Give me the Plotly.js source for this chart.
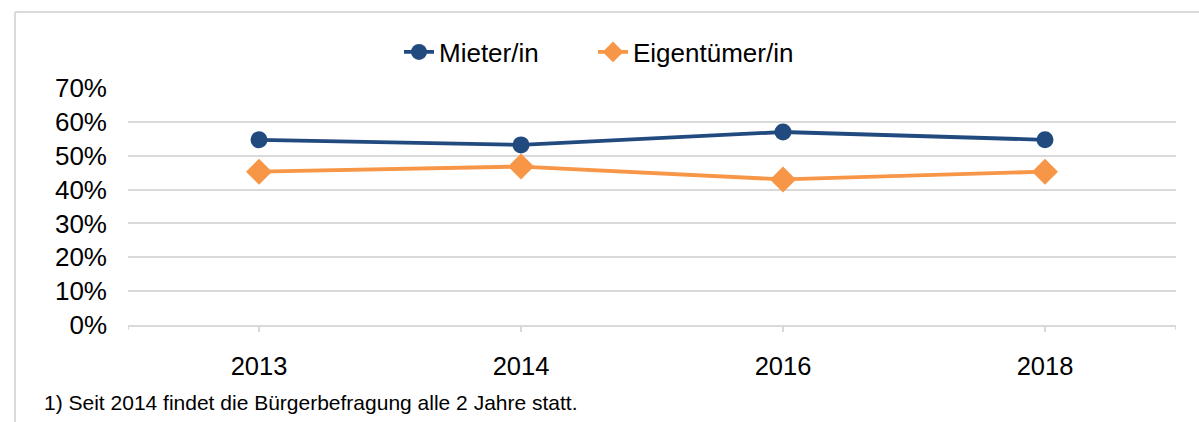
<!DOCTYPE html>
<html>
<head>
<meta charset="utf-8">
<script src="https://cdn.plot.ly/plotly-3.0.1.min.js"></script>
<style>
html,body{margin:0;padding:0;background:#fff;}
#chart{width:1199px;height:422px;}
</style>
</head>
<body>
<div id="chart"></div>
<script>
const years = ['2013', '2014', '2016', '2018'];
const mieter = [0.547, 0.532, 0.570, 0.547];
const eigentuemer = [0.453, 0.468, 0.430, 0.453];
const seriesNames = ['Mieter/in', 'Eigentümer/in'];
const yTicks = [0, 0.1, 0.2, 0.3, 0.4, 0.5, 0.6, 0.7];
const footnote = '1) Seit 2014 findet die Bürgerbefragung alle 2 Jahre statt.';

const font = 'Liberation Sans, Arial, sans-serif';
const grid = '#d9d9d9';

const traces = [
  {
    x: years, y: mieter, name: seriesNames[0], type: 'scatter', mode: 'lines+markers',
    line: {color: '#214a7e', width: 3.8},
    marker: {symbol: 'circle', size: 17, color: '#214a7e'},
    legend: 'legend'
  },
  {
    x: years, y: eigentuemer, name: seriesNames[1], type: 'scatter', mode: 'lines+markers',
    line: {color: '#f79646', width: 3.8},
    marker: {symbol: 'diamond', size: 20, color: '#f79646'},
    legend: 'legend2'
  }
];

const legendFont = {family: font, size: 26, color: '#000'};

const layout = {
  width: 1199, height: 422,
  margin: {l: 128, r: 23, t: 88, b: 97},
  paper_bgcolor: '#fff', plot_bgcolor: '#fff',
  font: {family: font, color: '#000', size: 25},
  showlegend: true,
  legend: {
    orientation: 'h', x: (399 - 128) / 1048, xanchor: 'left', y: 1.152, yanchor: 'middle',
    font: legendFont, itemwidth: 30, bgcolor: 'rgba(0,0,0,0)'
  },
  legend2: {
    orientation: 'h', x: (593 - 128) / 1048, xanchor: 'left', y: 1.152, yanchor: 'middle',
    font: legendFont, itemwidth: 30, bgcolor: 'rgba(0,0,0,0)'
  },
  xaxis: {
    type: 'category', range: [-0.5, 3.5],
    showgrid: false, showline: true, linecolor: grid, linewidth: 2,
    ticks: 'outside', ticklen: 5, tickcolor: grid, tickwidth: 2,
    ticklabelstandoff: 12,
    tickfont: {family: font, size: 25.5, color: '#000'}, fixedrange: true
  },
  yaxis: {
    range: [0, 0.7], tickmode: 'array', tickvals: yTicks, tickformat: '.0%',
    showgrid: true, gridcolor: grid, gridwidth: 2, zeroline: false, showline: false,
    ticks: '', ticklabelstandoff: 20,
    tickfont: {family: font, size: 26, color: '#000'}, fixedrange: true
  },
  shapes: [
    {type: 'line', xref: 'paper', yref: 'paper', x0: -0.1078, x1: -0.1078, y0: 1.3207, y1: -0.5, line: {color: grid, width: 2}},
    {type: 'line', xref: 'paper', yref: 'paper', x0: -0.1078, x1: 1.03, y0: 1.3207, y1: 1.3207, line: {color: grid, width: 2}},
    {type: 'line', xref: 'x', yref: 'paper', x0: -0.5, x1: -0.5, y0: 0, y1: -0.021, line: {color: grid, width: 2}},
    {type: 'line', xref: 'x', yref: 'paper', x0: 3.5, x1: 3.5, y0: 0, y1: -0.021, line: {color: grid, width: 2}}
  ],
  annotations: [
    {text: footnote, xref: 'paper', yref: 'paper', x: (42 - 128) / 1048, y: -0.329, xanchor: 'left', yanchor: 'middle',
     showarrow: false, font: {family: font, size: 21, color: '#000'}}
  ]
};

Plotly.newPlot('chart', traces, layout, {displayModeBar: false, staticPlot: true});
</script>
</body>
</html>
